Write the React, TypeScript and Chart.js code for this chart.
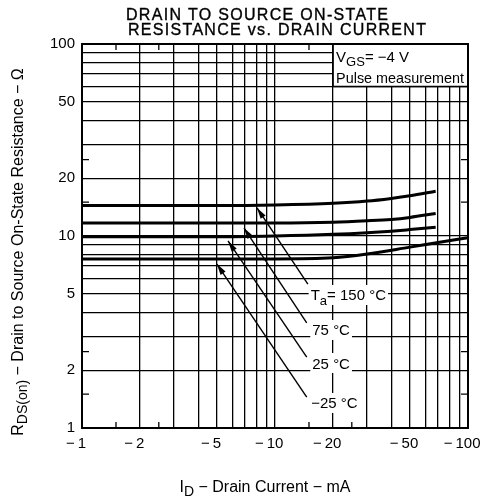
import React, { useEffect, useRef } from 'react';
import { Chart, registerables } from 'chart.js';

Chart.register(...registerables);

// ---- data (I_D in -mA, R in ohm) ----
const xGridValues = [1, 2, 3, 4, 5, 6, 7, 8, 9, 10, 20, 30, 40, 50, 60, 70, 80, 90, 100];
const yGridValues = [1, 2, 3, 4, 5, 6, 7, 8, 9, 10, 20, 30, 40, 50, 60, 70, 80, 90, 100];
const xLabelValues = [1, 2, 5, 10, 20, 50, 100];
const yLabelValues = [1, 2, 5, 10, 20, 50, 100];
const minorTickValues = [1.5, 2.5, 15, 25];

const current150 = [1, 5, 10, 20, 30, 40, 50, 68];
const res150 = [14.4, 14.4, 14.5, 14.8, 15.2, 15.7, 16.2, 17.1];
const current75 = [1, 5, 10, 20, 30, 40, 50, 68];
const res75 = [11.7, 11.7, 11.7, 11.8, 12.0, 12.2, 12.5, 13.1];
const current25 = [1, 5, 10, 20, 30, 40, 50, 68];
const res25 = [9.9, 9.9, 10.0, 10.2, 10.4, 10.6, 10.8, 11.1];
const currentM25 = [1, 5, 10, 20, 30, 50, 70, 100];
const resM25 = [7.6, 7.6, 7.6, 7.7, 8.05, 8.75, 9.25, 9.8];

// condition box corner (data coordinates)
const boxLeftI = 20;
const boxBottomR = 60;

// annotation labels & arrows (data coordinates)
const annLabels = ['150 °C', '75 °C', '25 °C', '−25 °C'];
const annTipI = [8.07, 6.91, 5.71, 5.0];
const annTipR = [14.0, 11.0, 9.42, 7.14];
const annTailI = [14.8, 14.6, 14.6, 14.6];
const annTailR = [5.62, 3.53, 2.34, 1.45];
const annTextI = [15.3, 15.6, 15.6, 15.4];
const annTextR = [4.93, 3.24, 2.18, 1.35];

const FONT = '"Liberation Sans", Arial, Helvetica, sans-serif';

type Run = { t: string; sub?: boolean };

function runsWidth(ctx: CanvasRenderingContext2D, runs: Run[], size: number) {
  let w = 0;
  for (const r of runs) {
    ctx.font = `${r.sub ? Math.round(size * 0.85) : size}px ${FONT}`;
    w += ctx.measureText(r.t).width;
  }
  return w;
}

function drawRuns(ctx: CanvasRenderingContext2D, runs: Run[], x: number, y: number, size: number) {
  let cx = x;
  ctx.textAlign = 'left';
  ctx.textBaseline = 'alphabetic';
  for (const r of runs) {
    ctx.font = `${r.sub ? Math.round(size * 0.85) : size}px ${FONT}`;
    ctx.fillText(r.t, cx, y + (r.sub ? size * 0.28 : 0));
    cx += ctx.measureText(r.t).width;
  }
  return cx - x;
}

const decorPlugin = {
  id: 'decor',
  afterDatasetsDraw(chart: any) {
    const ctx: CanvasRenderingContext2D = chart.ctx;
    const xs = chart.scales.x;
    const ys = chart.scales.y;
    const a = chart.chartArea;
    ctx.save();
    ctx.fillStyle = '#000';
    ctx.strokeStyle = '#000';

    // minor edge ticks
    ctx.lineWidth = 1.3;
    for (const v of minorTickValues) {
      const px = xs.getPixelForValue(v);
      ctx.beginPath();
      ctx.moveTo(px, a.top);
      ctx.lineTo(px, a.top + 6);
      ctx.moveTo(px, a.bottom);
      ctx.lineTo(px, a.bottom - 6);
      ctx.stroke();
      const py = ys.getPixelForValue(v);
      ctx.beginPath();
      ctx.moveTo(a.left, py);
      ctx.lineTo(a.left + 7, py);
      ctx.moveTo(a.right, py);
      ctx.lineTo(a.right - 7, py);
      ctx.stroke();
    }

    // condition box
    const bx = xs.getPixelForValue(boxLeftI);
    const bBottom = ys.getPixelForValue(boxBottomR);
    ctx.fillStyle = '#fff';
    ctx.fillRect(bx, a.top, a.right - bx, bBottom - a.top);
    ctx.fillStyle = '#000';
    ctx.lineWidth = 1.5;
    ctx.beginPath();
    ctx.moveTo(bx, a.top);
    ctx.lineTo(bx, bBottom);
    ctx.lineTo(a.right, bBottom);
    ctx.stroke();
    drawRuns(ctx, [{ t: 'V' }, { t: 'GS', sub: true }, { t: '= −4 V' }], bx + 3, a.top + 18, 15);
    drawRuns(ctx, [{ t: 'Pulse measurement' }], bx + 3, a.top + 39, 14.4);

    // annotation labels
    for (let i = 0; i < annLabels.length; i++) {
      const tx = xs.getPixelForValue(annTextI[i]);
      const ty = ys.getPixelForValue(annTextR[i]);
      const runs: Run[] = i === 0 ? [{ t: 'T' }, { t: 'a', sub: true }, { t: '= 150 °C' }] : [{ t: annLabels[i] }];
      const w = runsWidth(ctx, runs, 15);
      ctx.fillStyle = '#fff';
      ctx.fillRect(tx - 2, ty - 10, w + 4, 20);
      ctx.fillStyle = '#000';
      drawRuns(ctx, runs, tx, ty + 5.5, 15);
    }

    // arrows
    ctx.lineWidth = 1.4;
    for (let i = 0; i < annLabels.length; i++) {
      const x0 = xs.getPixelForValue(annTailI[i]);
      const y0 = ys.getPixelForValue(annTailR[i]);
      const x1 = xs.getPixelForValue(annTipI[i]);
      const y1 = ys.getPixelForValue(annTipR[i]);
      ctx.beginPath();
      ctx.moveTo(x0, y0);
      ctx.lineTo(x1, y1);
      ctx.stroke();
      const ang = Math.atan2(y1 - y0, x1 - x0);
      const L = 11, W = 3;
      const bxp = x1 - L * Math.cos(ang);
      const byp = y1 - L * Math.sin(ang);
      ctx.beginPath();
      ctx.moveTo(x1, y1);
      ctx.lineTo(bxp + W * Math.sin(ang), byp - W * Math.cos(ang));
      ctx.lineTo(bxp - W * Math.sin(ang), byp + W * Math.cos(ang));
      ctx.closePath();
      ctx.fill();
    }

    // plot border
    ctx.lineWidth = 2;
    ctx.strokeRect(a.left, a.top, a.right - a.left, a.bottom - a.top);
    ctx.restore();
  },
  afterDraw(chart: any) {
    const ctx: CanvasRenderingContext2D = chart.ctx;
    const a = chart.chartArea;
    const xs = chart.scales.x;
    ctx.save();
    ctx.fillStyle = '#000';

    // x tick labels: number centred on the grid line, minus sign in front
    for (const v of xLabelValues) {
      const px = xs.getPixelForValue(v);
      ctx.font = `15px ${FONT}`;
      const num = String(v);
      const nw = ctx.measureText(num).width;
      const pre = '−\u2009';
      const mw = ctx.measureText(pre).width;
      ctx.textAlign = 'left';
      ctx.textBaseline = 'alphabetic';
      ctx.fillText(pre + num, px - nw / 2 - mw, a.bottom + 20);
    }

    // title
    ctx.font = `16px ${FONT}`;
    (ctx as any).letterSpacing = '1.3px';
    ctx.textAlign = 'left';
    ctx.textBaseline = 'alphabetic';
    ctx.lineWidth = 0.35;
    ctx.strokeStyle = '#000';
    ctx.fillText('DRAIN TO SOURCE ON-STATE', 126, 20);
    ctx.strokeText('DRAIN TO SOURCE ON-STATE', 126, 20);
    ctx.fillText('RESISTANCE vs. DRAIN CURRENT', 128, 35);
    ctx.strokeText('RESISTANCE vs. DRAIN CURRENT', 128, 35);
    (ctx as any).letterSpacing = '0px';

    // x title
    const xRuns: Run[] = [{ t: 'I' }, { t: 'D', sub: true }, { t: ' − Drain Current − mA' }];
    const xw = runsWidth(ctx, xRuns, 16);
    drawRuns(ctx, xRuns, 265 - xw / 2, 492, 16);

    // y title
    const yRuns: Run[] = [{ t: 'R' }, { t: 'DS(on)', sub: true }, { t: ' − Drain to Source On-State Resistance − Ω' }];
    const yw = runsWidth(ctx, yRuns, 16);
    ctx.translate(23, 252);
    ctx.rotate(-Math.PI / 2);
    drawRuns(ctx, yRuns, -yw / 2, 0, 16);
    ctx.restore();
  },
};

export default function App() {
  const ref = useRef<HTMLCanvasElement | null>(null);
  useEffect(() => {
    if (!ref.current) return;
    const mk = (xs: number[], ys: number[]) => xs.map((x, i) => ({ x, y: ys[i] }));
    const ds = (label: string, data: any[]) => ({
      label,
      data,
      borderColor: '#000',
      borderWidth: 3,
      pointRadius: 0,
      fill: false,
      cubicInterpolationMode: 'monotone' as const,
    });
    const chart = new Chart(ref.current, {
      type: 'line',
      data: {
        datasets: [
          ds('150 °C', mk(current150, res150)),
          ds('75 °C', mk(current75, res75)),
          ds('25 °C', mk(current25, res25)),
          ds('−25 °C', mk(currentM25, resM25)),
        ],
      },
      options: {
        responsive: false,
        animation: false,
        devicePixelRatio: 1,
        layout: { padding: { left: 0, right: 13, top: 44, bottom: 0 } },
        plugins: { legend: { display: false }, tooltip: { enabled: false }, title: { display: false } },
        scales: {
          x: {
            type: 'logarithmic',
            min: 1,
            max: 100,
            afterBuildTicks: (s: any) => {
              s.ticks = xGridValues.map((v) => ({ value: v }));
            },
            afterFit: (s: any) => {
              s.height = 72;
            },
            ticks: { display: false, autoSkip: false, maxRotation: 0, minRotation: 0 },
            grid: { color: '#000', lineWidth: 1.3, drawTicks: false },
            border: { display: false },
          },
          y: {
            type: 'logarithmic',
            min: 1,
            max: 100,
            afterBuildTicks: (s: any) => {
              s.ticks = yGridValues.map((v) => ({ value: v }));
            },
            afterFit: (s: any) => {
              s.width = 82;
            },
            ticks: {
              autoSkip: false,
              padding: 7,
              color: '#000',
              font: { family: FONT, size: 15 },
              callback: (v: any) => (yLabelValues.includes(Number(v)) ? String(v) : ''),
            },
            grid: { color: '#000', lineWidth: 1.3, drawTicks: false },
            border: { display: false },
          },
        },
      },
      plugins: [decorPlugin],
    });
    return () => chart.destroy();
  }, []);
  return (
    <div style={{ position: 'absolute', left: 0, top: 0, width: 481, height: 500, background: '#fff' }}>
      <canvas ref={ref} width={481} height={500} />
    </div>
  );
}
